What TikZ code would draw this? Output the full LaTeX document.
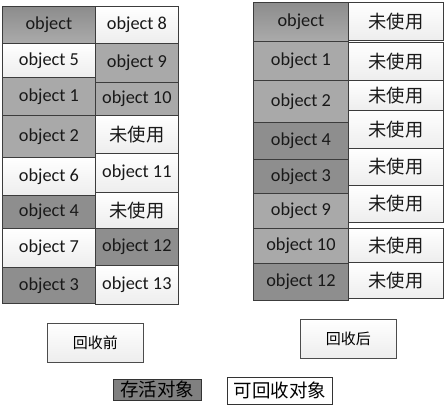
\documentclass[tikz,border=0pt]{standalone}
\usepackage{fontspec}
\setmainfont{Carlito}
\newfontfamily\cjk{Noto Sans CJK SC}
\definecolor{livedark}{HTML}{8E8E8E}
\definecolor{livemid}{HTML}{A9A9A9}
\definecolor{liveleg}{HTML}{808080}
\definecolor{rimgray}{HTML}{3C3C3C}
\tikzset{
	cell/.style={draw=rimgray, line width=0.8pt, anchor=north west, inner sep=0pt,
		text=black!90, font=\fontsize{18.3}{20}\selectfont},
	freecell/.style={cell, top color=white, bottom color=black!7},
	midcell/.style={cell, fill=livemid},
	darkcell/.style={cell, fill=livedark},
	headcell/.style={cell, top color=black!45, bottom color=black!33},
	tagbox/.style={draw=black!70, line width=0.6pt, inner sep=0pt, top color=white, bottom color=black!7,
		font=\cjk\fontsize{15}{18}\selectfont},
	legbox/.style={draw=black!80, line width=0.6pt, inner sep=0pt, font=\cjk\fontsize{18.5}{20}\selectfont},
}
\begin{document}
\begin{tikzpicture}[x=1pt, y=-1pt]
	\useasboundingbox (0,0) rectangle (445,407);
	%% Vor der Sammlung
\begin{scope}
	%% linke Spalte
	\node[headcell, minimum width=93pt, minimum height=37pt] (b0) at (2,6) {object};
	\node[freecell, minimum width=93pt, minimum height=34pt] (b5) at (2,43) {object 5};
	\node[midcell, minimum width=93pt, minimum height=38pt] (b1) at (2,77) {object 1};
	\node[midcell, minimum width=93pt, minimum height=42pt] (b2) at (2,115) {object 2};
	\node[freecell, minimum width=93pt, minimum height=38pt] (b6) at (2,157) {object 6};
	\node[darkcell, minimum width=93pt, minimum height=33pt] (b4) at (2,195) {object 4};
	\node[freecell, minimum width=93pt, minimum height=39pt] (b7) at (2,228) {object 7};
	\node[darkcell, minimum width=93pt, minimum height=36pt] (b3) at (2,267) {object 3};

	%% rechte Spalte
	\node[freecell, minimum width=83pt, minimum height=37pt] (b8) at (95,6) {object 8};
	\node[midcell, minimum width=83pt, minimum height=39pt] (b9) at (95,43) {object 9};
	\node[midcell, minimum width=83pt, minimum height=33pt] (b10) at (95,82) {object 10};
	\node[freecell, minimum width=83pt, minimum height=38pt] (bu1) at (95,115) {\cjk 未使用};
	\node[freecell, minimum width=83pt, minimum height=39pt] (b11) at (95,153) {object 11};
	\node[freecell, minimum width=83pt, minimum height=36pt] (bu2) at (95,192) {\cjk 未使用};
	\node[darkcell, minimum width=83pt, minimum height=37pt] (b12) at (95,228) {object 12};
	\node[freecell, minimum width=83pt, minimum height=39pt] (b13) at (95,265) {object 13};

	\node[tagbox, minimum width=96pt, minimum height=39pt, anchor=north west] (before) at (47,323) {回收前};
\end{scope}

	%% Nach der Sammlung
\begin{scope}
	%% linke Spalte
	\node[headcell, minimum width=95pt, minimum height=39pt] (a0) at (253,2) {object};
	\node[midcell, minimum width=95pt, minimum height=39pt] (a1) at (253,41) {object 1};
	\node[midcell, minimum width=95pt, minimum height=42pt] (a2) at (253,80) {object 2};
	\node[darkcell, minimum width=95pt, minimum height=37pt] (a4) at (253,122) {object 4};
	\node[darkcell, minimum width=95pt, minimum height=34pt] (a3) at (253,159) {object 3};
	\node[midcell, minimum width=95pt, minimum height=35pt] (a9) at (253,193) {object 9};
	\node[midcell, minimum width=95pt, minimum height=35pt] (a10) at (253,228) {object 10};
	\node[darkcell, minimum width=95pt, minimum height=37pt] (a12) at (253,263) {object 12};

	%% rechte Spalte
	\node[freecell, minimum width=95pt, minimum height=38pt] (au1) at (348,2) {\cjk 未使用};
	\node[freecell, minimum width=95pt, minimum height=38pt] (au2) at (348,42) {\cjk 未使用};
	\node[freecell, minimum width=95pt, minimum height=30pt] (au3) at (348,80) {\cjk 未使用};
	\node[freecell, minimum width=95pt, minimum height=38pt] (au4) at (348,110) {\cjk 未使用};
	\node[freecell, minimum width=95pt, minimum height=37pt] (au5) at (348,148) {\cjk 未使用};
	\node[freecell, minimum width=95pt, minimum height=37pt] (au6) at (348,185) {\cjk 未使用};
	\node[freecell, minimum width=95pt, minimum height=34pt] (au7) at (348,228) {\cjk 未使用};
	\node[freecell, minimum width=95pt, minimum height=36pt] (au8) at (348,262) {\cjk 未使用};

	\node[tagbox, minimum width=96pt, minimum height=39pt, anchor=north west] (after) at (300,319) {回收后};
\end{scope}

	%% Legende
	\node[legbox, fill=liveleg, minimum width=88pt, minimum height=21pt, anchor=north west] (live) at (113,379) {存活对象};
	\node[legbox, fill=white, minimum width=105pt, minimum height=27pt, anchor=north west] (dead) at (227,377) {可回收对象};
\end{tikzpicture}
\end{document}
